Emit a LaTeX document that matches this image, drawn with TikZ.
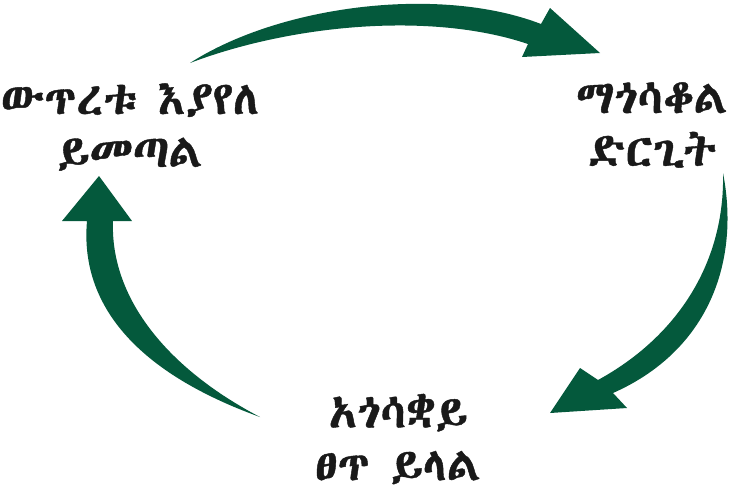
\documentclass[tikz,border=0pt]{standalone}
\usepackage{fontspec}
\usepackage{tikz}
\usetikzlibrary{positioning}

\IfFontExistsTF{Abyssinica SIL}{\newfontfamily\ethfont{Abyssinica SIL}[FakeBold=0.9]}{%
  \IfFontExistsTF{FreeSerif}{\newfontfamily\ethfont{FreeSerif}[FakeBold=0.9]}{%
    \IfFontExistsTF{Noto Sans Ethiopic}{\newfontfamily\ethfont{Noto Sans Ethiopic}}{%
      \newfontfamily\ethfont{Noto Sans}}}}
\definecolor{cyclegreen}{RGB}{4,89,60}

\begin{document}
\begin{tikzpicture}[x=0.01cm, y=-0.01cm,
  stage/.style   ={font=\ethfont\fontsize{13.2}{15}\selectfont, align=center,
                   text=black!90, inner sep=0pt},
  bigarrow/.style={fill=cyclegreen, draw=none}]

\useasboundingbox (0,0) rectangle (731,497);

%% ── Stages of the cycle ──────────────────────────────────────────
\node[stage] (tension) at (130,127) {ውጥረቱ እያየለ\\ይመጣል};
\node[stage] (action)  at (652,125) {ማጎሳቆል\\ድርጊት};
\node[stage] (calm)    at (398,439) {አጎሳቋይ\\ፀጥ ይላል};

%% ── Arrow: tension -> action (top) ───────────────────────────────
\coordinate (tailA) at (190,63);
\coordinate (tipA)  at (600,53);
\fill[bigarrow] (tailA) .. controls (280,5) and (440,-15) .. (541,24)
  -- (550,8) -- (tipA) -- (522,57) -- (528,44)
  .. controls (430,11) and (290,25) .. (tailA) -- cycle;

%% ── Arrow: action -> calm (right) ────────────────────────────────
\coordinate (tailB) at (723,173);
\coordinate (tipB)  at (550,413);
\fill[bigarrow] (tailB) .. controls (740,260) and (710,350) .. (613,393)
  -- (627,408) -- (tipB) -- (580,368) -- (598,380)
  .. controls (680,335) and (725,260) .. (tailB) -- cycle;

%% ── Arrow: calm -> tension (left) ────────────────────────────────
\coordinate (tailC) at (260,417);
\coordinate (tipC)  at (99,176);
\fill[bigarrow] (tailC) .. controls (130,370) and (80,300) .. (87,221)
  -- (62,221) -- (tipC) -- (132,221) -- (113,221)
  .. controls (110,300) and (170,370) .. (tailC) -- cycle;
\end{tikzpicture}
\end{document}
